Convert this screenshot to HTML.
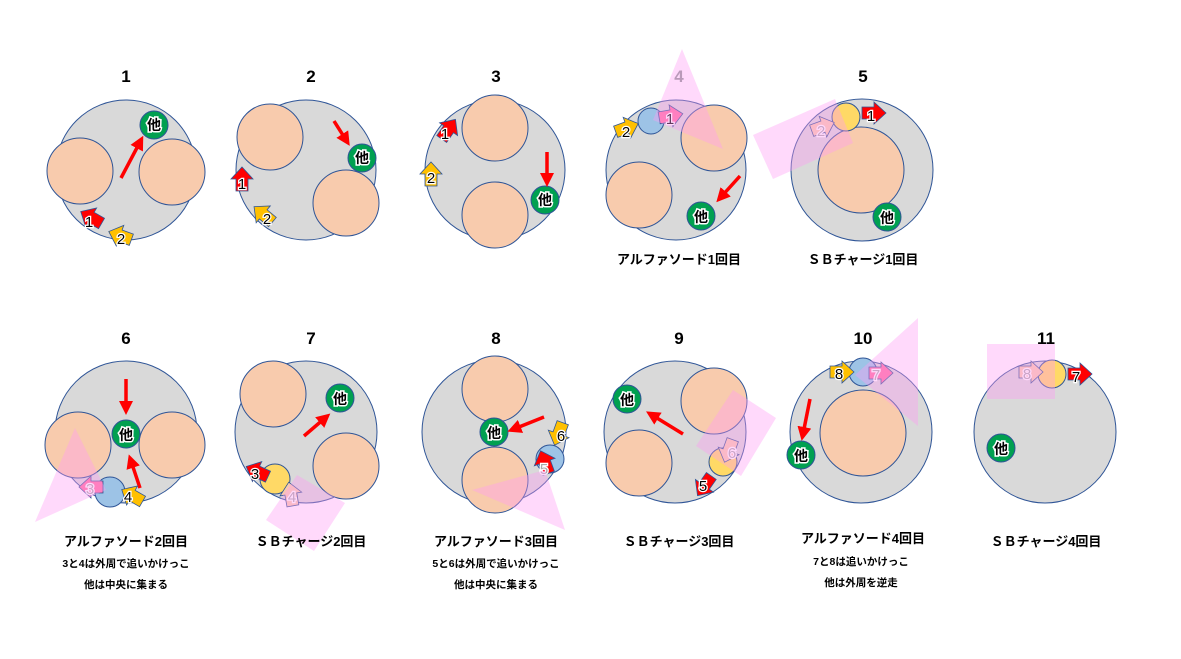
<!DOCTYPE html>
<html><head><meta charset="utf-8"><style>
html,body{margin:0;padding:0;background:#fff;}
svg{display:block;}
text{font-family:"Liberation Sans","Noto Sans CJK JP",sans-serif;font-weight:bold;}
.big{fill:#d9d9d9;stroke:#2f5597;stroke-width:1;}
.pe{fill:#f8cbad;stroke:#2f5597;stroke-width:1;}
.gr{fill:#00a050;stroke:#2f5597;stroke-width:1;}
.ta{font-size:17px;text-anchor:middle;fill:#000;}
.cap{font-size:13px;text-anchor:middle;fill:#000;}
.sub{font-size:10.5px;text-anchor:middle;fill:#000;}
.ta2{font-size:14px;text-anchor:middle;fill:#000;stroke:#fff;stroke-width:3;paint-order:stroke;}
.num{font-size:15px;text-anchor:middle;fill:#000;stroke:#fff;stroke-width:2.5;paint-order:stroke;font-weight:normal;}
.pk{fill:#ff9cf5;opacity:.38;}
.ba{stroke:#2f5597;stroke-width:.8;}
</style></head><body>
<svg width="1181" height="659" viewBox="0 0 1181 659" xmlns="http://www.w3.org/2000/svg">
<defs>
<polygon id="blk" points="-11,-6 1,-6 1,-11 13,0 1,11 1,6 -11,6"/>
<marker id="ah" markerWidth="4" markerHeight="4" refX="2" refY="2" orient="auto" markerUnits="strokeWidth"><path d="M0,0 L4,2 L0,4 z" fill="#f00"/></marker>
</defs>

<!-- Panel 1 -->
<text class="ta" x="126" y="82">1</text>
<circle class="big" cx="126" cy="170" r="70"/>
<circle class="pe" cx="80" cy="171" r="33"/>
<circle class="pe" cx="172" cy="172" r="33"/>
<circle class="gr" cx="154" cy="125" r="14"/><text class="ta2" x="154" y="130">他</text>
<line x1="121" y1="178" x2="140" y2="142" stroke="#f00" stroke-width="3.5" marker-end="url(#ah)"/>
<use href="#blk" fill="#f00" class="ba" transform="translate(92,218) rotate(-150)"/><text class="num" x="89" y="227">1</text>
<use href="#blk" fill="#ffc000" class="ba" transform="translate(121,236) rotate(-160)"/><text class="num" x="121" y="244">2</text>

<!-- Panel 2 -->
<text class="ta" x="311" y="82">2</text>
<circle class="big" cx="306" cy="170" r="70"/>
<circle class="pe" cx="270" cy="137" r="33"/>
<circle class="pe" cx="346" cy="203" r="33"/>
<circle class="gr" cx="362" cy="158" r="14"/><text class="ta2" x="362" y="163">他</text>
<line x1="334" y1="121" x2="346" y2="140" stroke="#f00" stroke-width="3.5" marker-end="url(#ah)"/>
<use href="#blk" fill="#f00" class="ba" transform="translate(242,180) rotate(-90)"/><text class="num" x="242" y="189">1</text>
<use href="#blk" fill="#ffc000" class="ba" transform="translate(264,215) rotate(-140)"/><text class="num" x="267" y="224">2</text>

<!-- Panel 3 -->
<text class="ta" x="496" y="82">3</text>
<circle class="big" cx="495" cy="170" r="70"/>
<circle class="pe" cx="495" cy="128" r="33"/>
<circle class="pe" cx="495" cy="215" r="33"/>
<circle class="gr" cx="545" cy="200" r="14"/><text class="ta2" x="545" y="205">他</text>
<line x1="547" y1="152" x2="547" y2="180" stroke="#f00" stroke-width="3.5" marker-end="url(#ah)"/>
<use href="#blk" fill="#f00" class="ba" transform="translate(448,130) rotate(-55)"/><text class="num" x="445" y="139">1</text>
<use href="#blk" fill="#ffc000" class="ba" transform="translate(431,175) rotate(-90)"/><text class="num" x="431" y="183">2</text>

<!-- Panel 4 -->
<circle class="big" cx="676" cy="170" r="70"/>
<circle class="pe" cx="714" cy="138" r="33"/>
<circle class="pe" cx="639" cy="195" r="33"/>
<circle cx="651" cy="121" r="13" fill="#9dc3e6" stroke="#2f5597"/>
<circle class="gr" cx="701" cy="216" r="14"/><text class="ta2" x="701" y="222">他</text>
<line x1="740" y1="176" x2="721" y2="197" stroke="#f00" stroke-width="3.5" marker-end="url(#ah)"/>
<use href="#blk" fill="#ffc000" class="ba" transform="translate(626,128) rotate(-20)"/><text class="num" x="626" y="137">2</text>
<use href="#blk" fill="#ff6fa0" class="ba" transform="translate(670,116) rotate(-10)"/><text class="num" x="670" y="124">1</text>
<polygon class="pk" points="682,49 723,149 653,120"/>
<text class="ta" x="679" y="82" style="fill:#b99ab9">4</text>
<text class="cap" x="679" y="264">アルファソード1回目</text>

<!-- Panel 5 -->
<text class="ta" x="863" y="82">5</text>
<circle class="big" cx="862" cy="170" r="71"/>
<circle class="pe" cx="861" cy="170" r="43"/>
<circle cx="846" cy="117" r="14" fill="#ffd966" stroke="#2f5597"/>
<circle class="gr" cx="887" cy="217" r="14"/><text class="ta2" x="887" y="223">他</text>
<use href="#blk" fill="#f00" class="ba" transform="translate(873,113)"/><text class="num" x="871" y="121">1</text>
<use href="#blk" fill="#f8cbad" class="ba" transform="translate(822,127) rotate(-20)"/><text class="num" x="821" y="136" style="fill:#aaa">2</text>
<polygon class="pk" points="753,135 835,99 853,143 773,179"/>
<text class="cap" x="863" y="264">ＳＢチャージ1回目</text>

<!-- Panel 6 -->
<text class="ta" x="126" y="344">6</text>
<circle class="big" cx="126" cy="432" r="71"/>
<circle class="pe" cx="78" cy="445" r="33"/>
<circle class="pe" cx="172" cy="445" r="33"/>
<circle class="gr" cx="126" cy="434" r="14"/><text class="ta2" x="126" y="440">他</text>
<line x1="126" y1="379" x2="126" y2="408" stroke="#f00" stroke-width="3.5" marker-end="url(#ah)"/>
<line x1="140" y1="488" x2="131" y2="461" stroke="#f00" stroke-width="3.5" marker-end="url(#ah)"/>
<circle cx="110" cy="492" r="15" fill="#9dc3e6" stroke="#2f5597"/>
<use href="#blk" fill="#ff6fa0" class="ba" transform="translate(92,487) rotate(180)"/><text class="num" x="90" y="494" style="fill:#aaa">3</text>
<use href="#blk" fill="#ffc000" class="ba" transform="translate(133,496) rotate(-150)"/><text class="num" x="128" y="502">4</text>
<polygon class="pk" points="35,522 75,428 106,490"/>
<text class="cap" x="126" y="546">アルファソード2回目</text>
<text class="sub" x="126" y="567">3と4は外周で追いかけっこ</text>
<text class="sub" x="126" y="588">他は中央に集まる</text>

<!-- Panel 7 -->
<text class="ta" x="311" y="344">7</text>
<circle class="big" cx="306" cy="432" r="71"/>
<circle class="pe" cx="273" cy="394" r="33"/>
<circle class="pe" cx="346" cy="466" r="33"/>
<circle class="gr" cx="340" cy="398" r="14"/><text class="ta2" x="340" y="404">他</text>
<line x1="304" y1="436" x2="325" y2="418" stroke="#f00" stroke-width="3.5" marker-end="url(#ah)"/>
<circle cx="275" cy="479" r="15" fill="#ffd966" stroke="#2f5597"/>
<use href="#blk" fill="#f00" class="ba" transform="translate(258,472) rotate(-155)"/><text class="num" x="255" y="479">3</text>
<use href="#blk" fill="#f8cbad" class="ba" transform="translate(291,495) rotate(-100)"/><text class="num" x="292" y="502" style="fill:#aaa">4</text>
<polygon class="pk" points="266,520 297,475 345,503 314,551"/>
<text class="cap" x="311" y="546">ＳＢチャージ2回目</text>

<!-- Panel 8 -->
<text class="ta" x="496" y="344">8</text>
<circle class="big" cx="494" cy="432" r="72"/>
<circle class="pe" cx="495" cy="389" r="33"/>
<circle class="pe" cx="495" cy="480" r="33"/>
<circle class="gr" cx="494" cy="432" r="14"/><text class="ta2" x="494" y="438">他</text>
<line x1="544" y1="417" x2="514" y2="429" stroke="#f00" stroke-width="3.5" marker-end="url(#ah)"/>
<circle cx="550" cy="459" r="14" fill="#9dc3e6" stroke="#2f5597"/>
<use href="#blk" fill="#ffc000" class="ba" transform="translate(559,433) rotate(110)"/><text class="num" x="561" y="441">6</text>
<use href="#blk" fill="#f00" class="ba" transform="translate(545,463) rotate(-110)"/><text class="num" x="544" y="474" style="fill:#aaa">5</text>
<polygon class="pk" points="472,490 565,530 545,470"/>
<text class="cap" x="496" y="546">アルファソード3回目</text>
<text class="sub" x="496" y="567">5と6は外周で追いかけっこ</text>
<text class="sub" x="496" y="588">他は中央に集まる</text>

<!-- Panel 9 -->
<text class="ta" x="679" y="344">9</text>
<circle class="big" cx="675" cy="432" r="71"/>
<circle class="pe" cx="714" cy="401" r="33"/>
<circle class="pe" cx="639" cy="463" r="33"/>
<circle class="gr" cx="627" cy="399" r="14"/><text class="ta2" x="627" y="405">他</text>
<line x1="683" y1="434" x2="652" y2="415" stroke="#f00" stroke-width="3.5" marker-end="url(#ah)"/>
<circle cx="723" cy="462" r="14" fill="#ffd966" stroke="#2f5597"/>
<use href="#blk" fill="#f00" class="ba" transform="translate(705,485) rotate(125)"/><text class="num" x="703" y="491">5</text>
<use href="#blk" fill="#f8cbad" class="ba" transform="translate(729,450) rotate(110)"/><text class="num" x="732" y="458" style="fill:#aaa">6</text>
<polygon class="pk" points="696,446 733,390 776,418 741,476"/>
<text class="cap" x="679" y="546">ＳＢチャージ3回目</text>

<!-- Panel 10 -->
<text class="ta" x="863" y="344">10</text>
<circle class="big" cx="861" cy="432" r="71"/>
<circle class="pe" cx="863" cy="433" r="43"/>
<circle cx="863" cy="372" r="14" fill="#9dc3e6" stroke="#2f5597"/>
<circle class="gr" cx="801" cy="455" r="14"/><text class="ta2" x="801" y="461">他</text>
<line x1="810" y1="399" x2="803" y2="434" stroke="#f00" stroke-width="3.5" marker-end="url(#ah)"/>
<use href="#blk" fill="#ffc000" class="ba" transform="translate(841,372)"/><text class="num" x="839" y="379">8</text>
<use href="#blk" fill="#ff6fa0" class="ba" transform="translate(880,373)"/><text class="num" x="876" y="380" style="fill:#aaa">7</text>
<polygon class="pk" points="918,318 918,426 855,375"/>
<text class="cap" x="863" y="543">アルファソード4回目</text>
<text class="sub" x="861" y="565">7と8は追いかけっこ</text>
<text class="sub" x="861" y="586">他は外周を逆走</text>

<!-- Panel 11 -->
<text class="ta" x="1046" y="344">11</text>
<circle class="big" cx="1045" cy="432" r="71"/>
<circle cx="1052" cy="374" r="14" fill="#ffd966" stroke="#2f5597"/>
<circle class="gr" cx="1001" cy="448" r="14"/><text class="ta2" x="1001" y="454">他</text>
<use href="#blk" fill="#f00" class="ba" transform="translate(1079,374)"/><text class="num" x="1076" y="382">7</text>
<use href="#blk" fill="#f8cbad" class="ba" transform="translate(1030,372)"/><text class="num" x="1027" y="379" style="fill:#aaa">8</text>
<rect class="pk" x="987" y="344" width="68" height="55"/>
<text class="cap" x="1046" y="546">ＳＢチャージ4回目</text>
</svg>
</body></html>
